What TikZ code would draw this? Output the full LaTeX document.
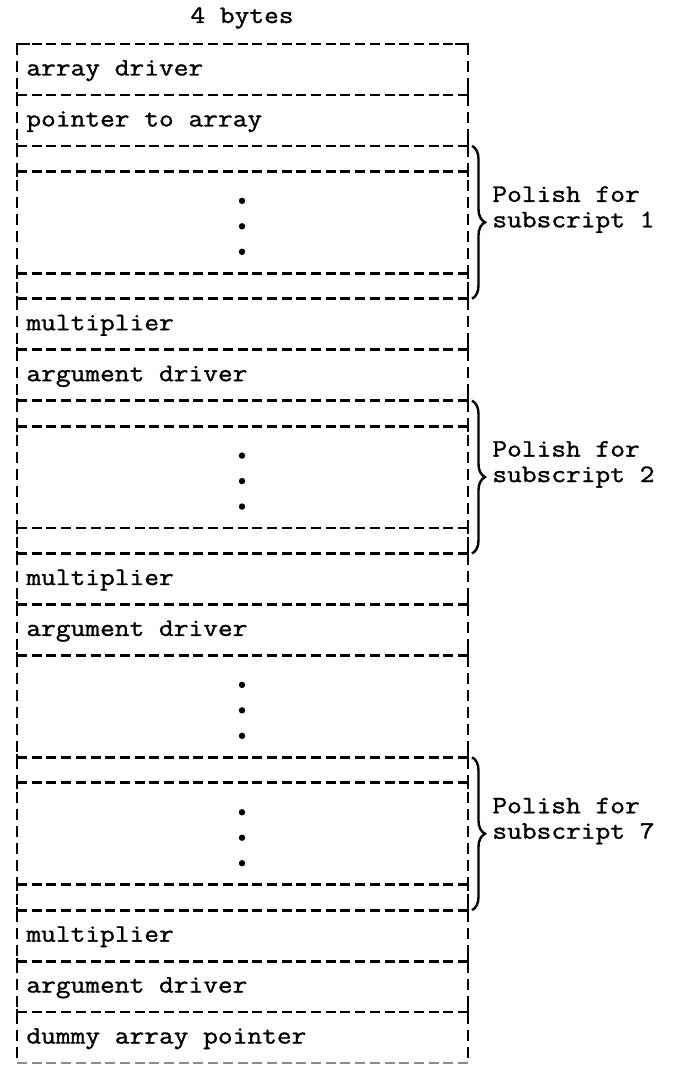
\documentclass[tikz,border=0pt]{standalone}
\usepackage{fontspec}
\usetikzlibrary{decorations.pathreplacing}
\newfontfamily\tw{Latin Modern Mono}[FakeStretch=1.14, FakeBold=1.2]
\newcommand{\twsize}{\fontsize{12.55pt}{12.74pt}\selectfont}
% y of row boundary #1 (in rows of 25.475px, from the top rule)
\newcommand{\rowy}[1]{44+(#1)*25.475}

\begin{document}
\begin{tikzpicture}[
        x=0.5pt, y=-0.5pt,
        wall/.style={line width=1.4pt, dash pattern=on 5.5pt off 3pt},
        rule/.style={line width=1.4pt, dash pattern=on 5pt off 2.35pt},
        tee/.style={line width=1.4pt},
        cell/.style={anchor=base west, inner sep=0pt, font=\tw\twsize},
        pol/.style={decorate, decoration={brace, amplitude=6.5pt}, line width=1.2pt}]
    \useasboundingbox (0,0) rectangle (673,1065);
    \node[cell, anchor=base] (hdr) at (242,23) {4 bytes};
    % walls and corners
    \draw[wall] (17,44) -- (17,1063);
    \draw[wall] (468,44) -- (468,1063);
    \draw[tee] (17,52) -- (17,44) -- (30,44);
    \draw[tee] (455,44) -- (468,44) -- (468,52);
    % row rules
    \foreach \k in {0,2,4,5,9,10,12,14,15,19,20,22,24,28,29,33,34,36,38}
        \draw[rule] (17,{\rowy{\k}}) -- (468,{\rowy{\k}});
    \foreach \k in {2,4,5,9,10,12,14,15,19,20,22,24,28,29,33,34,36,38} {
        \draw[tee] (17,{\rowy{\k}-3}) -- (17,{\rowy{\k}+6});
        \draw[tee] (468,{\rowy{\k}-6}) -- (468,{\rowy{\k}+6});
    }
    \draw[rule, black!45] (17,{\rowy{40}}) -- (468,{\rowy{40}});
    % cells
    \foreach \k/\nm/\txt in {0/drv/array driver, 2/ptr/pointer to array,
            10/mula/multiplier, 12/arga/argument driver,
            20/mulb/multiplier, 22/argb/argument driver,
            34/mulc/multiplier, 36/argc/argument driver,
            38/dum/dummy array pointer}
        \node[cell] (\nm) at (26,{\rowy{\k+1}+6}) {\txt};
    % dots
    \foreach \c in {7,17,26,31}
        \foreach \d in {-1,0,1}
            \fill (242,{\rowy{\c+\d}+4}) circle (1.6pt);
    % braces
    \foreach \t/\n in {4/1, 14/2, 28/7} {
        \draw[pol] (472,{\rowy{\t}}) -- (472,{\rowy{\t+6}});
        \node[cell] (pa\n) at (492,{\rowy{\t+2}+5}) {Polish for};
        \node[cell] (pb\n) at (492,{\rowy{\t+3}+5}) {subscript \n};
    }
\end{tikzpicture}
\end{document}
